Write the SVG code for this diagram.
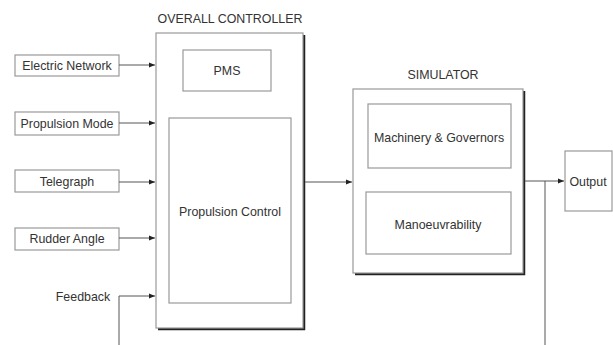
<svg xmlns="http://www.w3.org/2000/svg" width="613" height="345" viewBox="0 0 613 345">
<style>
text{font-family:"Liberation Sans",Arial,sans-serif;font-size:12.4px;fill:#333;text-anchor:middle;dominant-baseline:central}
.box{fill:#fff;stroke:#999;stroke-width:1.2}
.outer{fill:#fff;stroke:#999;stroke-width:1.2}
.shadow{fill:none;stroke:#222;stroke-width:2.5}
.conn{fill:none;stroke:#555;stroke-width:1}
</style>
<defs>
<marker id="arr" markerWidth="6" markerHeight="6" refX="6" refY="3" orient="auto" markerUnits="userSpaceOnUse">
<path d="M0,0.5 L6,3 L0,5.5 Z" fill="#222"/>
</marker>
</defs>
<g id="electric-network"><rect class="box" x="15" y="55" width="104" height="21"/><text x="67" y="66">Electric Network</text></g>
<g id="propulsion-mode"><rect class="box" x="15" y="112" width="104" height="23"/><text x="67" y="124">Propulsion Mode</text></g>
<g id="telegraph"><rect class="box" x="15" y="170" width="104" height="22"/><text x="67" y="182">Telegraph</text></g>
<g id="rudder-angle"><rect class="box" x="15" y="228" width="104" height="22"/><text x="67" y="239">Rudder Angle</text></g>
<g id="feedback"><text x="83" y="297">Feedback</text></g>
<g id="overall-controller">
<text x="230" y="19">OVERALL CONTROLLER</text>
<path class="shadow" d="M304,35 V329 H158"/>
<rect class="outer" x="156" y="33" width="147" height="295"/>
</g>
<g id="pms"><rect class="box" x="183" y="50" width="88" height="41"/><text x="227" y="71">PMS</text></g>
<g id="propulsion-control"><rect class="box" x="169" y="118" width="122" height="185"/><text x="230" y="212">Propulsion Control</text></g>
<g id="simulator">
<text x="443" y="75">SIMULATOR</text>
<path class="shadow" d="M524,91 V274 H355"/>
<rect class="outer" x="353" y="89" width="170" height="184"/>
</g>
<g id="machinery"><rect class="box" x="368" y="104" width="143" height="64"/><text x="439" y="138">Machinery &amp; Governors</text></g>
<g id="manoeuvrability"><rect class="box" x="366" y="192" width="145" height="62"/><text x="438" y="225">Manoeuvrability</text></g>
<g id="output"><rect class="box" x="565" y="151" width="47" height="60"/><text x="588" y="182">Output</text></g>
<g id="connectors">
<line class="conn" x1="119" y1="65" x2="155" y2="65" marker-end="url(#arr)"/>
<line class="conn" x1="119" y1="123" x2="155" y2="123" marker-end="url(#arr)"/>
<line class="conn" x1="119" y1="182" x2="155" y2="182" marker-end="url(#arr)"/>
<line class="conn" x1="119" y1="238" x2="155" y2="238" marker-end="url(#arr)"/>
<path class="conn" d="M119,345 V296 H155" marker-end="url(#arr)"/>
<line class="conn" x1="305" y1="182" x2="352" y2="182" marker-end="url(#arr)"/>
<line class="conn" x1="525" y1="181" x2="564" y2="181" marker-end="url(#arr)"/>
<line class="conn" x1="545" y1="181" x2="545" y2="345"/>
</g>
</svg>
